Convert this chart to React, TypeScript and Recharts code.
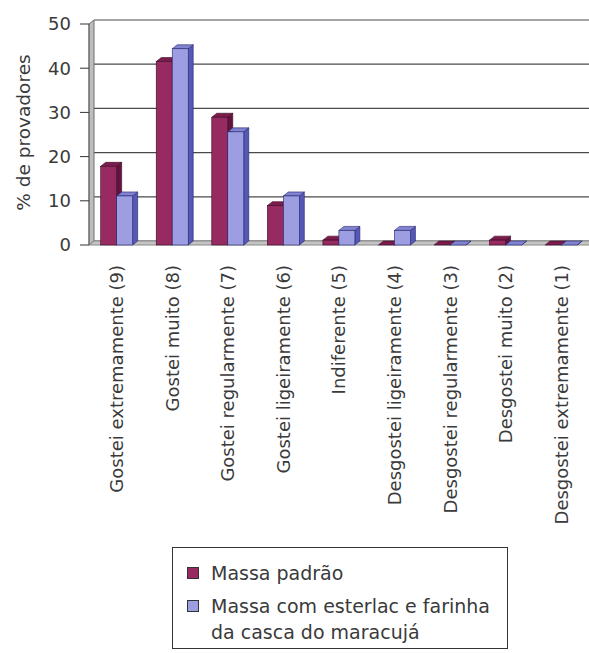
import React from 'react';
import { BarChart, Bar, XAxis, YAxis, CartesianGrid, Legend, ReferenceArea } from 'recharts';

const categories = [
  'Gostei extremamente (9)',
  'Gostei muito (8)',
  'Gostei regularmente (7)',
  'Gostei ligeiramente (6)',
  'Indiferente (5)',
  'Desgostei ligeiramente (4)',
  'Desgostei regularmente (3)',
  'Desgostei muito (2)',
  'Desgostei extremamente (1)',
];
const massaPadrao = [17.8, 41.5, 28.9, 8.9, 1.1, 0, 0, 1.1, 0];
const massaEsterlac = [11.1, 44.4, 25.6, 11.1, 3.3, 3.3, 0, 0, 0];
const yTicks = [0, 10, 20, 30, 40, 50];
const boundaryTicks = [0, 1, 2, 3, 4, 5, 6, 7, 8, 9];
const seriesNames = ['Massa padrão', 'Massa com esterlac e farinha da casca do maracujá'];

const data = categories.map((name, i) => ({ name, padrao: massaPadrao[i], esterlac: massaEsterlac[i] }));

const FONT = '"DejaVu Sans", sans-serif';
const TEXT = '#3a3a3a';
const DX = 5;
const DY = 4;

const RED = { front: '#982a62', side: '#641340', top: '#7c1c4e', line: '#3a0a22' };
const BLUE = { front: '#9d9ee2', side: '#5658b6', top: '#8183d2', line: '#23246a' };

function bar3d(c: typeof RED) {
  return (props: any) => {
    const { x, y, width, height } = props;
    const h = Math.max(0, height || 0);
    return (
      <g>
        <polygon
          points={`${x + width},${y} ${x + width + DX},${y - DY} ${x + width + DX},${y + h - DY} ${x + width},${y + h}`}
          fill={c.side}
          stroke={c.line}
          strokeWidth={0.6}
        />
        <polygon
          points={`${x},${y} ${x + DX},${y - DY} ${x + width + DX},${y - DY} ${x + width},${y}`}
          fill={c.top}
          stroke={c.line}
          strokeWidth={0.6}
        />
        {h > 0 && <rect x={x} y={y} width={width} height={h} fill={c.front} stroke={c.line} strokeWidth={0.6} />}
      </g>
    );
  };
}

function WallAndFloor(props: any) {
  const { x, y, width, height } = props;
  const b = y + height;
  return (
    <g>
      <polygon points={`${x},${b} ${x + DX},${b - DY} ${x + DX},${y - DY} ${x},${y}`} fill="#bdbdbd" stroke="#6e6e6e" strokeWidth={1} />
      <polygon points={`${x},${b} ${x + DX},${b - DY} ${x + width + DX},${b - DY} ${x + width},${b}`} fill="#c4c4c4" stroke="#8a8a8a" strokeWidth={1} />
    </g>
  );
}

function CategoryTick(props: any) {
  const { x, y, payload } = props;
  return (
    <text
      x={x}
      y={y}
      transform={`rotate(-90, ${x}, ${y})`}
      textAnchor="end"
      dy="0.36em"
      fontSize={18}
      fontFamily={FONT}
      fill={TEXT}
    >
      {payload.value}
    </text>
  );
}

function YLabel(props: any) {
  const vb = props.viewBox;
  const cx = vb.x + 23;
  const cy = vb.y + vb.height / 2 - 2;
  return (
    <text x={cx} y={cy} transform={`rotate(-90, ${cx}, ${cy})`} textAnchor="middle" dominantBaseline="central" fontSize={18.5} fontFamily={FONT} fill={TEXT}>
      % de provadores
    </text>
  );
}

function LegendBox() {
  const colors = [RED.front, BLUE.front];
  return (
    <div style={{ border: '1px solid #333', boxSizing: 'border-box', width: 336, height: 102, padding: '12px 0 0 14px', fontFamily: FONT, fontSize: 19, color: TEXT, background: '#fff' }}>
      {seriesNames.map((n, i) => (
        <div key={n} style={{ display: 'flex', alignItems: 'flex-start', marginBottom: 7, lineHeight: '26px' }}>
          <span style={{ width: 12, height: 12, border: '1px solid #333', background: colors[i], marginTop: 7, marginRight: 12, flex: 'none', boxSizing: 'border-box' }} />
          <span style={{ width: 290 }}>{n}</span>
        </div>
      ))}
    </div>
  );
}

export default function App() {
  return (
    <div style={{ position: 'absolute', left: 0, top: 0, width: 589, height: 653, background: '#fff' }}>
      <BarChart width={589} height={653} data={data} margin={{ top: 24, right: 0, left: 0, bottom: 0 }} barCategoryGap="21%" barGap={0}>
        <CartesianGrid
          vertical={false}
          horizontal={(p: any) => (
            <line key={`g${p.y1}`} x1={p.x1 + DX} x2={p.x2} y1={p.y1 - DY} y2={p.y2 - DY} stroke="#4a4a4a" strokeWidth={1.2} />
          )}
        />
        <ReferenceArea y1={0} y2={50} shape={<WallAndFloor />} ifOverflow="visible" />
        <XAxis xAxisId="b" type="number" domain={[0, 9]} ticks={boundaryTicks} height={0} tick={false} tickSize={7} tickLine={{ stroke: '#333' }} axisLine={{ stroke: '#555' }} />
        <XAxis dataKey="name" height={408} interval={0} tick={<CategoryTick />} tickLine={false} axisLine={false} tickMargin={13} tickSize={7} />
        <YAxis
          domain={[0, 50]}
          ticks={yTicks}
          width={89}
          tickSize={9}
          tickMargin={9}
          tick={{ fontSize: 18, fontFamily: FONT, fill: TEXT }}
          tickLine={{ stroke: '#333' }}
          axisLine={{ stroke: '#666' }}
          label={<YLabel />}
        />
        <Legend
          layout="vertical"
          align="center"
          verticalAlign="middle"
          wrapperStyle={{ left: 172, top: 547, width: 336, height: 102 }}
          content={() => <LegendBox />}
        />
        <Bar dataKey="padrao" name={seriesNames[0]} fill={RED.front} shape={bar3d(RED)} isAnimationActive={false} />
        <Bar dataKey="esterlac" name={seriesNames[1]} fill={BLUE.front} shape={bar3d(BLUE)} isAnimationActive={false} />
      </BarChart>
    </div>
  );
}
